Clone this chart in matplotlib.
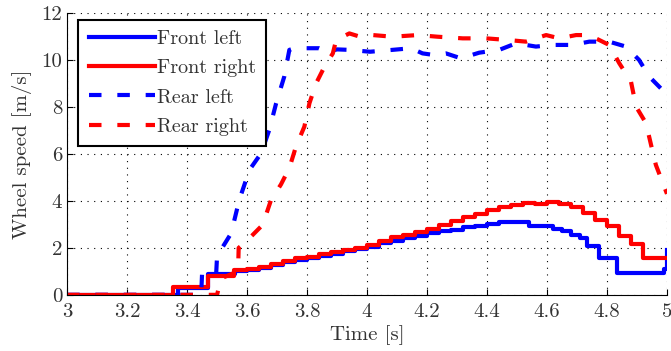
import numpy as np
import matplotlib
matplotlib.use('Agg')
import matplotlib.pyplot as plt

plt.rcParams['font.family'] = ['cmr10', 'DejaVu Serif']
plt.rcParams['axes.formatter.use_mathtext'] = True
plt.rcParams['font.size'] = 15

# front left wheel (step data)
t_fl = [3.0, 3.37, 3.47, 3.56, 3.60, 3.64, 3.68, 3.72, 3.76, 3.80, 3.84, 3.88,
        3.92, 3.96, 4.00, 4.04, 4.08, 4.12, 4.16, 4.20, 4.24, 4.28, 4.32, 4.36,
        4.40, 4.44, 4.48, 4.54, 4.62, 4.65, 4.68, 4.71, 4.735, 4.775, 4.835,
        4.99, 5.0]
v_fl = [0.0, 0.3, 0.9, 1.0, 1.05, 1.15, 1.25, 1.38, 1.48, 1.55, 1.65, 1.75,
        1.85, 1.95, 2.05, 2.2, 2.3, 2.4, 2.5, 2.62, 2.7, 2.78, 2.88, 2.95,
        3.02, 3.08, 3.08, 2.92, 2.8, 2.7, 2.55, 2.4, 2.1, 1.56, 0.92,
        1.1, 1.9]

# front right wheel (step data)
t_fr = [3.0, 3.353, 3.47, 3.555, 3.60, 3.64, 3.68, 3.72, 3.76, 3.80, 3.84, 3.88,
        3.92, 3.96, 4.00, 4.04, 4.08, 4.12, 4.16, 4.20, 4.24, 4.28, 4.32, 4.36,
        4.40, 4.44, 4.48, 4.52, 4.56, 4.60, 4.64, 4.68, 4.72, 4.76, 4.80, 4.84,
        4.88, 4.92, 5.0]
v_fr = [0.0, 0.35, 0.8, 1.05, 1.1, 1.2, 1.3, 1.42, 1.55, 1.62, 1.72, 1.82,
        1.92, 2.0, 2.12, 2.3, 2.45, 2.55, 2.68, 2.82, 2.98, 3.15, 3.3, 3.45,
        3.6, 3.72, 3.82, 3.9, 3.88, 3.95, 3.85, 3.72, 3.5, 3.2, 2.95, 2.5,
        2.15, 1.56, 1.56]

# rear left wheel
t_rl = [3.0, 3.447, 3.45, 3.497, 3.50, 3.547, 3.574, 3.608, 3.647, 3.674, 3.697,
        3.724, 3.741, 3.76, 3.84, 3.87, 3.90, 3.94, 4.01, 4.085, 4.147, 4.185,
        4.224, 4.263, 4.313, 4.374, 4.441, 4.497, 4.563, 4.618, 4.685, 4.741,
        4.807, 4.863, 4.907, 4.941, 4.985, 5.0]
v_rl = [0.0, 0.0, 0.9, 0.9, 1.65, 2.62, 4.04, 5.32, 6.03, 7.02, 8.16,
        9.29, 10.43, 10.5, 10.5, 10.35, 10.45, 10.43, 10.35, 10.43, 10.5, 10.28,
        10.21, 10.28, 10.07, 10.31, 10.43, 10.71, 10.57, 10.64, 10.64, 10.78,
        10.78, 10.57, 10.0, 9.29, 8.72, 8.6]

# rear right wheel
t_rr = [3.0, 3.50, 3.513, 3.57, 3.572, 3.597, 3.652, 3.68, 3.713, 3.741, 3.763,
        3.791, 3.808, 3.83, 3.858, 3.886, 3.897, 3.941, 3.974, 4.019, 4.085,
        4.169, 4.235, 4.319, 4.397, 4.469, 4.53, 4.597, 4.641, 4.697, 4.741,
        4.807, 4.841, 4.88, 4.897, 4.93, 4.947, 4.963, 5.0]
v_rr = [0.0, 0.0, 0.7, 1.0, 2.0, 2.27, 2.98, 4.04, 4.7, 5.4, 6.31,
        7.16, 8.16, 9.0, 9.71, 10.28, 10.85, 11.13, 11.0, 11.06, 10.99,
        11.06, 10.99, 10.92, 10.92, 10.85, 10.78, 11.06, 10.92, 11.06, 11.06,
        10.64, 9.86, 9.08, 8.01, 7.31, 6.38, 5.53, 4.3]

xticks = [3, 3.2, 3.4, 3.6, 3.8, 4, 4.2, 4.4, 4.6, 4.8, 5]
yticks = [0, 2, 4, 6, 8, 10, 12]

fig = plt.figure(figsize=(6.71, 3.51), dpi=100)
ax = fig.add_axes([0.1, 0.16, 0.894, 0.803])

lw = 3
ax.plot(t_fl, v_fl, color='#0000ff', lw=lw, drawstyle='steps-post', label='Front left')
ax.plot(t_fr, v_fr, color='#ff0000', lw=lw, drawstyle='steps-post', label='Front right')
ax.plot(t_rl, v_rl, color='#0000ff', lw=lw, dashes=(3, 3.8), label='Rear left')
ax.plot(t_rr, v_rr, color='#ff0000', lw=lw, dashes=(3, 3.8), label='Rear right')

ax.set_xlim(3, 5)
ax.set_ylim(0, 12)
ax.set_xticks(xticks)
ax.set_yticks(yticks)
ax.set_xticklabels(['%g' % x for x in xticks])
ax.set_yticklabels(['%g' % y for y in yticks])
ax.tick_params(direction='in', length=4, colors='black', labelcolor='#333333')
ax.tick_params(axis='x', pad=6)
ax.grid(True, color='black', linestyle=(0, (1, 5)), lw=0.8)

for s in ['top', 'right']:
    ax.spines[s].set_visible(False)

ax.set_xlabel('Time [s]', color='#333333', labelpad=3)
ax.set_ylabel('Wheel speed [m/s]', color='#333333', labelpad=7)

leg = ax.legend(loc='upper left', bbox_to_anchor=(0.019, 0.975), borderaxespad=0,
                handlelength=3.3, handletextpad=0.1, labelspacing=0.55,
                borderpad=0.5, fancybox=False, framealpha=1, fontsize=14.5)
leg.get_frame().set_edgecolor('black')
leg.get_frame().set_linewidth(1.5)
for txt in leg.get_texts():
    txt.set_color('#333333')

fig.savefig('out.png', dpi=100)
